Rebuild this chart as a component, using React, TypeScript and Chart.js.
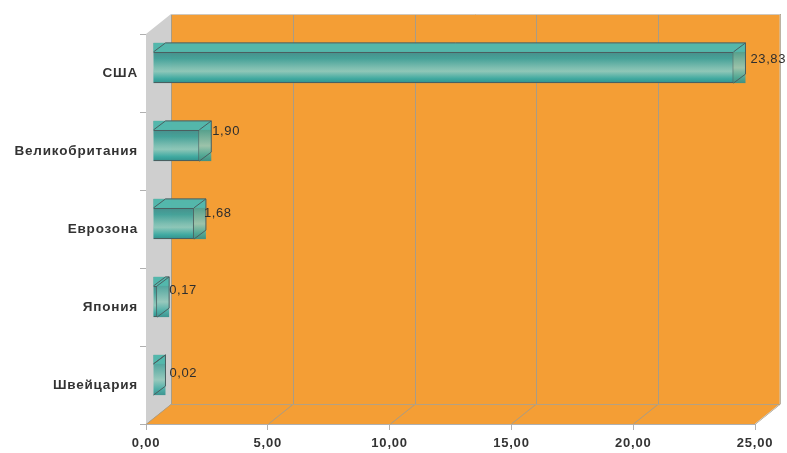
import { useEffect, useRef } from "react";
import { Chart, registerables } from "chart.js";

Chart.register(...registerables);

const categories = ["США", "Великобритания", "Еврозона", "Япония", "Швейцария"];
const values = [23.83, 1.9, 1.68, 0.17, 0.02];
const labelNudgeX = [1, -3, -6, -4, 0];
const labelNudgeY = [2, -4, 0, -1, 4];

const WALL_DX = 25;
const WALL_DY = 20;
const BAR_DX = 7;
const BAR_DY = 5.5;
const CAP_DX = 12;
const CAP_DY = 9;

const fmt = (v: number) => v.toFixed(2).replace(".", ",");

function poly(ctx: CanvasRenderingContext2D, pts: number[][]) {
  ctx.beginPath();
  pts.forEach(([x, y], i) => (i ? ctx.lineTo(x, y) : ctx.moveTo(x, y)));
  ctx.closePath();
}

function tealGradient(ctx: CanvasRenderingContext2D, top: number, bottom: number) {
  const g = ctx.createLinearGradient(0, top, 0, bottom);
  g.addColorStop(0, "rgba(70,140,138,0.9)");
  g.addColorStop(0.22, "rgba(64,160,152,0.88)");
  g.addColorStop(0.62, "rgba(144,200,186,0.88)");
  g.addColorStop(0.85, "rgba(62,170,162,0.88)");
  g.addColorStop(1, "rgba(46,142,138,0.9)");
  return g;
}

// Box walls, floor and grid behind the bars, plus the depth faces of each bar.
const scene = {
  id: "scene",
  beforeDraw(chart: any) {
    // Wide tracking shared by the axis labels.
    chart.ctx.letterSpacing = "0.8px";
  },
  beforeDatasetsDraw(chart: any) {
    const { ctx, chartArea: a, scales } = chart;
    const { left: l, right: r, top: t, bottom: b } = a;
    ctx.save();
    ctx.fillStyle = "#f49e35";
    ctx.fillRect(l + WALL_DX, t - WALL_DY, r - l, b - t);
    poly(ctx, [[l, b], [r, b], [r + WALL_DX, b - WALL_DY], [l + WALL_DX, b - WALL_DY]]);
    ctx.fill();
    ctx.fillStyle = "#cfcfcf";
    poly(ctx, [[l, t], [l + WALL_DX, t - WALL_DY], [l + WALL_DX, b - WALL_DY], [l, b]]);
    ctx.fill();

    ctx.strokeStyle = "#a89c86";
    ctx.lineWidth = 1;
    scales.x.ticks.forEach((tick: any) => {
      const x = Math.round(scales.x.getPixelForValue(tick.value)) + 0.5;
      ctx.beginPath();
      ctx.moveTo(x, b);
      ctx.lineTo(x + WALL_DX, b - WALL_DY);
      ctx.lineTo(x + WALL_DX, t - WALL_DY);
      ctx.stroke();
    });
    ctx.strokeStyle = "#cfc8bd";
    ctx.beginPath();
    ctx.moveTo(l + WALL_DX, t - WALL_DY + 0.5);
    ctx.lineTo(r + WALL_DX, t - WALL_DY + 0.5);
    ctx.lineTo(r + WALL_DX, b - WALL_DY);
    ctx.lineTo(r, b);
    ctx.stroke();
    ctx.strokeStyle = "#b4a183";
    ctx.beginPath();
    ctx.moveTo(l + WALL_DX, b - WALL_DY + 0.5);
    ctx.lineTo(r + WALL_DX, b - WALL_DY + 0.5);
    ctx.stroke();

    ctx.translate(BAR_DX, -BAR_DY);
    chart.getDatasetMeta(0).data.forEach((bar: any) => {
      const p = bar.getProps(["x", "y", "base", "height"], true);
      const y0 = p.y - p.height / 2;
      const y1 = p.y + p.height / 2;
      ctx.fillStyle = tealGradient(ctx, y0 - CAP_DY, y1);
      ctx.fillRect(p.base, y0 - CAP_DY, p.x - p.base + CAP_DX, y1 - y0 + CAP_DY);
      ctx.fillStyle = "rgba(84,186,174,0.92)";
      ctx.fillRect(p.base, y0 - CAP_DY, p.x - p.base + CAP_DX, CAP_DY);
    });
  },
  afterDatasetsDraw(chart: any) {
    const { ctx } = chart;
    ctx.strokeStyle = "#4a5f60";
    ctx.lineWidth = 1;
    chart.getDatasetMeta(0).data.forEach((bar: any, i: number) => {
      const p = bar.getProps(["x", "y", "base", "height"], true);
      const y0 = p.y - p.height / 2;
      const y1 = p.y + p.height / 2;
      ctx.beginPath();
      ctx.moveTo(p.base, y0);
      ctx.lineTo(p.base + CAP_DX, y0 - CAP_DY);
      ctx.lineTo(p.x + CAP_DX, y0 - CAP_DY);
      ctx.lineTo(p.x + CAP_DX, y1 - CAP_DY);
      ctx.lineTo(p.x, y1);
      ctx.moveTo(p.x, y0);
      ctx.lineTo(p.x + CAP_DX, y0 - CAP_DY);
      ctx.stroke();
      ctx.fillStyle = "#2e2e2e";
      ctx.font = "13px 'Liberation Sans'";
      ctx.letterSpacing = "0.6px";
      ctx.textAlign = "left";
      ctx.textBaseline = "middle";
      ctx.fillText(
        fmt(values[i]),
        p.x + CAP_DX + 4 + labelNudgeX[i],
        y0 + 6 + labelNudgeY[i]
      );
    });
    ctx.restore();
  },
};

export default function App() {
  const ref = useRef<HTMLCanvasElement>(null);
  useEffect(() => {
    document.body.style.margin = "0";
    const chart = new Chart(ref.current!, {
      type: "bar",
      data: {
        labels: categories,
        datasets: [
          {
            data: values,
            barPercentage: 0.4,
            categoryPercentage: 1,
            borderWidth: 1,
            borderColor: "#4a5f60",
            backgroundColor: (c: any) => {
              const y = c.chart.scales.y;
              const mid = y ? y.getPixelForValue(c.dataIndex) : NaN;
              if (!Number.isFinite(mid)) return "#40a49c";
              return tealGradient(c.chart.ctx, mid - 16, mid + 16);
            },
          },
        ],
      },
      options: {
        indexAxis: "y",
        responsive: false,
        animation: false,
        layout: { padding: { top: 34, right: 32, left: 0, bottom: 0 } },
        plugins: { legend: { display: false }, tooltip: { enabled: false } },
        scales: {
          x: {
            min: 0,
            max: 25,
            ticks: {
              stepSize: 5,
              color: "#333333",
              font: { family: "'Liberation Sans'", size: 13, weight: "bold" },
              padding: 6,
              maxRotation: 0,
              callback: (v: any) => fmt(Number(v)),
            },
            grid: { drawOnChartArea: false, tickLength: 6, color: "#b0b0b0" },
            border: { color: "#b0b0b0" },
            afterFit: (axis: any) => {
              axis.height = 29;
            },
          },
          y: {
            ticks: {
              color: "#333333",
              font: { family: "'Liberation Sans'", size: 13.5, weight: "bold" },
              padding: 2,
              autoSkip: false,
            },
            grid: { drawOnChartArea: false, tickLength: 6, color: "#b0b0b0" },
            border: { color: "#b0b0b0" },
            afterFit: (axis: any) => {
              axis.width = 146;
            },
          },
        },
      },
      plugins: [scene],
    } as any);
    return () => chart.destroy();
  }, []);
  return <canvas ref={ref} width={787} height={453} style={{ display: "block" }} />;
}
